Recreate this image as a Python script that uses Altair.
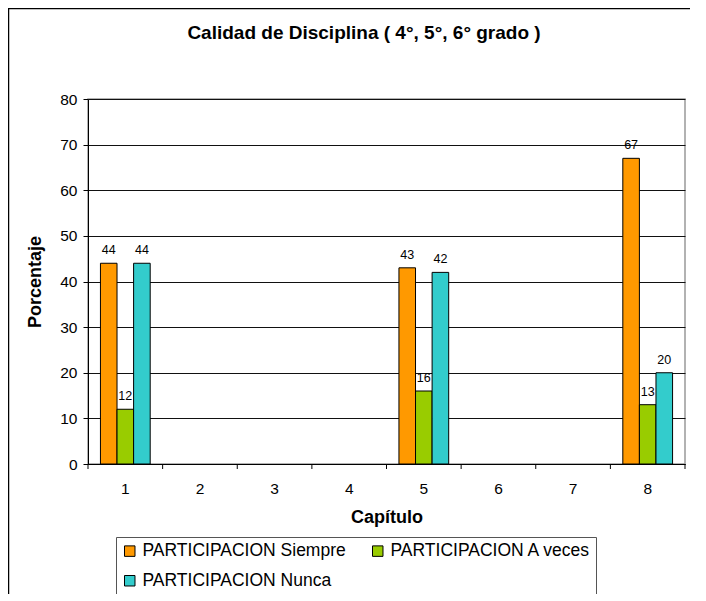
import altair as alt
import pandas as pd

# ---- data ----
capitulos = ["1", "2", "3", "4", "5", "6", "7", "8"]
capitulos_con_datos = ["1", "5", "8"]
series = ["PARTICIPACION Siempre", "PARTICIPACION A veces", "PARTICIPACION Nunca"]
siempre = [44, 43, 67]
a_veces = [12, 16, 13]
nunca = [44, 42, 20]
colores = ["#FF9900", "#99CC00", "#33CCCC"]
limites_categoria = [0, 1, 2, 3, 4, 5, 6, 7, 8]
y_ticks = [0, 10, 20, 30, 40, 50, 60, 70, 80]
titulo = "Calidad de Disciplina ( 4°, 5°, 6° grado )"

rows = []
for serie, vals in zip(series, [siempre, a_veces, nunca]):
    for cap, v in zip(capitulos_con_datos, vals):
        rows.append({"cap": cap, "serie": serie, "valor": v})
df = pd.DataFrame(rows)

W, H = 597, 365
FONT = "Liberation Sans"

x_scale = alt.Scale(domain=capitulos, paddingInner=0, paddingOuter=0)
y_scale = alt.Scale(domain=[0, 80], nice=False)

x_enc = alt.X(
    "cap:N",
    scale=x_scale,
    axis=alt.Axis(
        title="Capítulo", labelAngle=0, ticks=False, tickSize=0, labelPadding=17,
        labelFontSize=15.5, labelColor="black", titleFontSize=18, titleFontWeight="bold",
        titleColor="black", titleY=53, titleBaseline="middle",
        domainColor="black", grid=False,
    ),
)
xoff_enc = alt.XOffset(
    "serie:N", scale=alt.Scale(domain=series, paddingInner=0, paddingOuter=0.75)
)
y_enc = alt.Y(
    "valor:Q",
    scale=y_scale,
    axis=alt.Axis(
        title="Porcentaje", values=y_ticks, tickSize=5, labelPadding=6,
        labelFontSize=15.5, labelColor="black", titleFontSize=18, titleFontWeight="bold",
        titleColor="black", titleAngle=-90, titleX=-53, titleY=H / 2,
        titleAlign="center", titleBaseline="middle",
        domainColor="black", tickColor="black", gridColor="#111111", grid=True,
    ),
)

bars = alt.Chart(df).mark_bar(stroke="black", strokeWidth=1).encode(
    x=x_enc,
    xOffset=xoff_enc,
    y=y_enc,
    fill=alt.Fill(
        "serie:N",
        scale=alt.Scale(domain=series, range=colores),
        legend=alt.Legend(
            title=None, orient="none", legendX=28, legendY=438, direction="horizontal",
            columns=2, strokeColor="#555555", padding=5, symbolType="square",
            symbolSize=110, symbolStrokeColor="black", symbolStrokeWidth=1,
            labelFontSize=17.5, labelColor="black", rowPadding=11, columnPadding=23,
            labelOffset=4, labelLimit=0,
        ),
    ),
)

labels = alt.Chart(df).mark_text(fontSize=12.5, dy=-13, color="black", baseline="middle").encode(
    x=alt.X("cap:N", scale=x_scale),
    xOffset=xoff_enc,
    y=alt.Y("valor:Q", scale=y_scale),
    text=alt.Text("valor:Q"),
)

ticks_df = pd.DataFrame({"pos": limites_categoria})
ticks = alt.Chart(ticks_df).mark_rule(color="black", strokeWidth=1).encode(
    x=alt.X("pos:Q", scale=alt.Scale(domain=[0, 8], nice=False, zero=False), axis=None),
    y=alt.value(H),
    y2=alt.value(H + 5),
)

title_df = pd.DataFrame({"t": [titulo]})
title_mark = alt.Chart(title_df).mark_text(
    fontSize=19, fontWeight="bold", color="black", align="center", baseline="middle"
).encode(text="t:N", x=alt.value(276), y=alt.value(-66))

border = alt.Chart(pd.DataFrame({"b": [0]})).mark_rect(
    fillOpacity=0, stroke="black", strokeWidth=1.5
).encode(x=alt.value(-79.5), x2=alt.value(W + 40), y=alt.value(-90.5), y2=alt.value(H + 200))

chart = alt.layer(alt.layer(bars, labels), ticks, title_mark, border).resolve_scale(
    x="independent"
).properties(
    width=W, height=H,
    autosize=alt.AutoSizeParams(type="none"),
    padding={"left": 80, "top": 91, "right": 5, "bottom": 130},
).configure(font=FONT).configure_view(stroke="#999999", strokeWidth=1.5)

chart.save("out.html", embed_options={"renderer": "svg", "actions": False})
